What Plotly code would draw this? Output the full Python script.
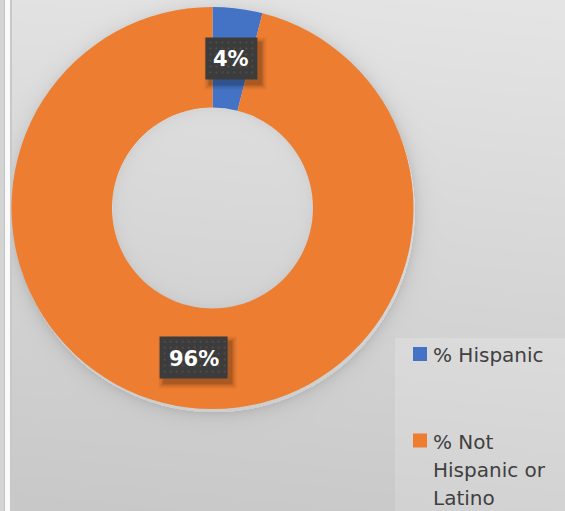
import math, zlib, struct, base64
import numpy as np
import plotly.graph_objects as go

# ---- data ----
categories = ["% Hispanic", "% Not Hispanic or Latino"]
legend_lines = [["% Hispanic"], ["% Not", "Hispanic or", "Latino"]]
values = [4, 96]
colors = ["#4472C4", "#ED7D31"]

W, H = 565, 511
# pie geometry (pixels)
PX0, PX1, PY0, PY1 = 11.5, 413.5, 7.0, 409.0
CX, CY = (PX0 + PX1) / 2, (PY0 + PY1) / 2
R_OUT = (PX1 - PX0) / 2
HOLE = 0.5
R_IN = R_OUT * HOLE


def px(x):
    return x / W


def py(y):
    return 1 - y / H


# ---- background image (gradient, donut shadow, frame) ----
yy, xx = np.mgrid[0:H, 0:W].astype(float)
bg = 226 - 26 * (yy / H) + 3 * (xx / W)
r = np.sqrt((xx - CX - 1) ** 2 + (yy - CY - 3) ** 2)
d = r - R_OUT
bg = np.where(d > 0, bg - 22 * np.exp(-np.clip(d, 0, None) / 7), bg)
d2 = R_IN - np.sqrt((xx - CX) ** 2 + (yy - CY) ** 2)
bg = np.where(d2 > 0, bg - 10 * np.exp(-np.clip(d2, 0, None) / 6), bg)
leg = (xx >= 395) & (yy >= 338)
bg = np.where(leg, bg + 8, bg)
bg[:, 0:4] = 212
bg[:, 4:5] = 196
bg[:, 5:10] = 250
bg[:, 10:12] = 200
img = np.clip(bg, 0, 255).astype(np.uint8)
rgb = np.repeat(img[:, :, None], 3, axis=2)
raw = b"".join(b"\x00" + rgb[i].tobytes() for i in range(H))


def chunk(t, data):
    c = struct.pack(">I", len(data)) + t + data
    return c + struct.pack(">I", zlib.crc32(t + data) & 0xFFFFFFFF)


png = (b"\x89PNG\r\n\x1a\n" + chunk(b"IHDR", struct.pack(">IIBBBBB", W, H, 8, 2, 0, 0, 0))
       + chunk(b"IDAT", zlib.compress(raw, 9)) + chunk(b"IEND", b""))
uri = "data:image/png;base64," + base64.b64encode(png).decode()

fig = go.Figure()
fig.add_trace(go.Pie(
    labels=categories, values=values, hole=HOLE, sort=False,
    direction="clockwise", rotation=0,
    marker=dict(colors=colors, line=dict(width=0)),
    textinfo="none", hoverinfo="label+percent", showlegend=False,
    domain=dict(x=[px(PX0), px(PX1)], y=[py(PY1), py(PY0)]),
))

shapes = []
annotations = []

# ---- data labels ----
total = sum(values)
cum = 0
rmid = (R_OUT + R_IN) / 2
for v in values:
    ang = (cum + v / 2) / total * 2 * math.pi
    cum += v
    lx = CX + rmid * math.sin(ang)
    ly = CY - rmid * math.cos(ang)
    txt = f"{round(v / total * 100)}%"
    bw = 20 + 16 * len(txt)
    bh = 42
    x0, x1, y0, y1 = lx - bw / 2, lx + bw / 2, ly - bh / 2, ly + bh / 2
    for e, op in [(5, 0.05), (3, 0.09), (1, 0.16)]:
        shapes.append(dict(type="rect", xref="paper", yref="paper", layer="above",
                           x0=px(x0 + 4 - e), x1=px(x1 + 4 + e), y0=py(y1 + 5 + e), y1=py(y0 + 5 - e),
                           fillcolor=f"rgba(0,0,0,{op})", line=dict(width=0)))
    shapes.append(dict(type="rect", xref="paper", yref="paper", layer="above",
                       x0=px(x0), x1=px(x1), y0=py(y1), y1=py(y0),
                       fillcolor="#3c3c3c", line=dict(width=0)))
    gx = x0 + 4
    while gx < x1 - 2:
        gy = y0 + 4
        while gy < y1 - 2:
            shapes.append(dict(type="rect", xref="paper", yref="paper", layer="above",
                               x0=px(gx), x1=px(gx + 2), y0=py(gy + 2), y1=py(gy),
                               fillcolor="#4e4e4e", line=dict(width=0)))
            gy += 6
        gx += 6
    annotations.append(dict(x=px(lx), y=py(ly + 1), xref="paper", yref="paper", text=f"<b>{txt}</b>",
                            showarrow=False, xanchor="center", yanchor="middle",
                            font=dict(family="DejaVu Sans", size=21, color="white")))

# ---- legend ----
leg_y = [354, 440.5]
for i, (lines, col) in enumerate(zip(legend_lines, colors)):
    y = leg_y[i]
    shapes.append(dict(type="rect", xref="paper", yref="paper", layer="above",
                       x0=px(413), x1=px(427), y0=py(y + 7), y1=py(y - 7),
                       fillcolor=col, line=dict(width=0)))
    for j, ln in enumerate(lines):
        annotations.append(dict(x=px(431), y=py(y + 1 + j * 28), xref="paper", yref="paper", text=ln,
                                showarrow=False, xanchor="left", yanchor="middle",
                                font=dict(family="DejaVu Sans", size=20, color="#404040")))

fig.update_layout(
    width=W, height=H, margin=dict(l=0, r=0, t=0, b=0),
    paper_bgcolor="#d8d8d8", plot_bgcolor="rgba(0,0,0,0)",
    images=[dict(source=uri, xref="paper", yref="paper", x=0, y=1, sizex=1, sizey=1,
                 xanchor="left", yanchor="top", sizing="stretch", layer="below")],
    shapes=shapes, annotations=annotations,
)
fig.write_html("out.html")
